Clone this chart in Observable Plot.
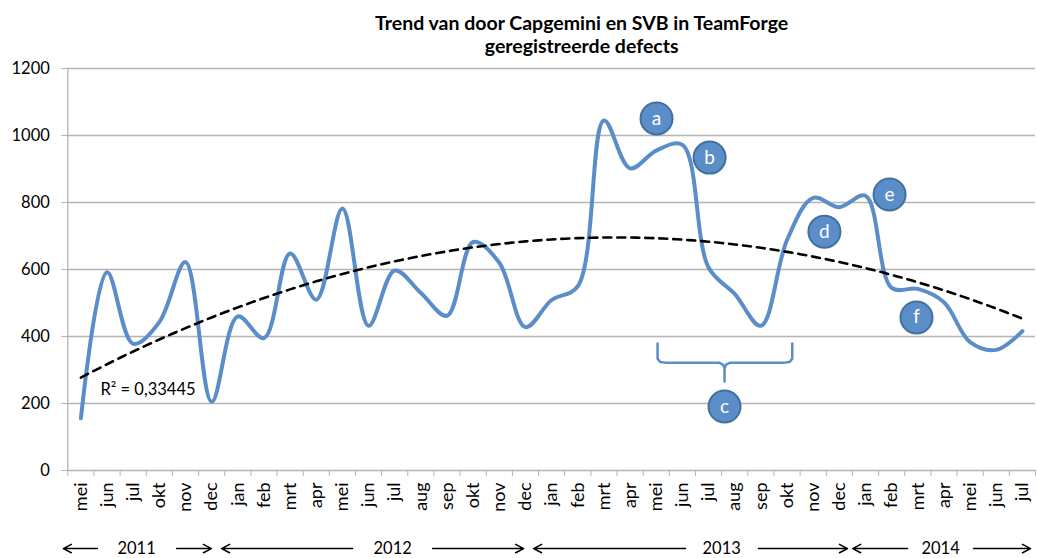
<!DOCTYPE html>
<html><head><meta charset="utf-8">
<script src="https://cdn.jsdelivr.net/npm/d3@7"></script>
<script src="https://cdn.jsdelivr.net/npm/@observablehq/plot@0.6"></script>
<style>body{margin:0;background:#fff;} #chart svg{font-family:Lato,sans-serif;}</style>
</head><body><div id="chart"></div>
<script>
// ---- data ----
const months = ["mei","jun","jul","okt","nov","dec",
  "jan","feb","mrt","apr","mei","jun","jul","aug","sep","okt","nov","dec",
  "jan","feb","mrt","apr","mei","jun","jul","aug","sep","okt","nov","dec",
  "jan","feb","mrt","apr","mei","jun","jul"];
const defects = [156,592,378,443,622,205,
  460,395,648,510,782,432,597,530,462,682,620,428,
  509,550,1045,902,955,972,606,527,432,688,814,786,
  820,545,542,502,383,360,416];
const yTicks = [0,200,400,600,800,1000,1200];
const titleText = "Trend van door Capgemini en SVB in TeamForge\ngeregistreerde defects";
const r2Label = "R² = 0,33445";
const noteLetters = ["a","b","c","d","e","f"];
const yearLabels = ["2011","2012","2013","2014"];

// ---- annotation placement (index / value space) ----
const notePos = [[22.01,1051],[24.04,934],[24.61,191],[28.43,713],[30.92,824],[31.95,457]];
const yearText = [2.13, 11.92, 24.5, 32.87];
const yearArrowSpans = [[0.63,-0.67],[3.66,4.99],[10.39,5.38],[13.45,16.93],[23.12,17.31],[25.91,29.31],[31.61,29.51],[34.13,36.31]];
const yearRowValue = -233;
const braceLeft = [[22.05,379],[22.05,334],[22.15,324],[22.35,322],[24.4,322],[24.55,316],[24.61,306],[24.61,266]];
const braceRight = [[27.2,379],[27.2,334],[27.1,324],[26.9,322],[24.82,322],[24.67,316],[24.61,306]];

// ---- quadratic (order-2 polynomial) trend fitted to the data ----
function quadFit(xs, ys) {
  const S = [0,0,0,0,0], T = [0,0,0];
  xs.forEach((x,i) => { for (let k=0;k<5;k++) S[k]+=x**k; for (let k=0;k<3;k++) T[k]+=ys[i]*x**k; });
  const A = [[S[0],S[1],S[2],T[0]],[S[1],S[2],S[3],T[1]],[S[2],S[3],S[4],T[2]]];
  for (let c=0;c<3;c++) {
    for (let r=c+1;r<3;r++) { const f=A[r][c]/A[c][c]; for (let k=c;k<4;k++) A[r][k]-=f*A[c][k]; }
  }
  const sol=[0,0,0];
  for (let r=2;r>=0;r--) { let s=A[r][3]; for (let k=r+1;k<3;k++) s-=A[r][k]*sol[k]; sol[r]=s/A[r][r]; }
  return x => sol[0]+sol[1]*x+sol[2]*x*x;
}
const idx = defects.map((_,i)=>i);
const fit = quadFit(idx, defects);
const trend = d3.range(0, 36.001, 0.25).map(i => ({i, v: fit(i)}));

const series = defects.map((v,i)=>({i, v, m: months[i]}));
const notes = noteLetters.map((t,k)=>({t, i: notePos[k][0], v: notePos[k][1]}));
const years = yearLabels.map((t,k)=>({t, i: yearText[k], v: yearRowValue}));
const arrows = yearArrowSpans.map(([a,b])=>({x1:a, x2:b, y: yearRowValue}));

const blue = "#5b8ec9";
const grid = "#b4b4b4";

const chart = Plot.plot({
  width: 1037, height: 558,
  marginLeft: 67.3, marginRight: 2, marginTop: 68, marginBottom: 88,
  x: {domain: [-0.5, 36.5]},
  y: {domain: [0, 1200]},
  style: {fontFamily: "Lato, sans-serif", fontSize: "16px", color: "#000", background: "#fff"},
  marks: [
    Plot.gridY(yTicks, {stroke: grid, strokeOpacity: 1, strokeWidth: 1.3}),
    Plot.ruleX([-0.5], {stroke: grid, strokeWidth: 1.3}),
    Plot.axisY(yTicks, {tickSize: 6, tickPadding: 12, stroke: grid, strokeOpacity: 1, label: null, fontSize: 16.5, tickFormat: d => String(d)}),
    Plot.axisX(d3.range(-0.5, 37, 1), {tickSize: 6, tickFormat: () => "", stroke: grid, strokeOpacity: 1, label: null}),
    Plot.axisX(d3.range(37), {tickSize: 0, tickPadding: 12, tickRotate: -90, tickFormat: i => months[i], label: null, fontSize: 18}),
    Plot.line(series, {x: "i", y: "v", stroke: blue, strokeWidth: 4, curve: "catmull-rom"}),
    Plot.line(trend, {x: "i", y: "v", stroke: "#000", strokeWidth: 2.6, strokeDasharray: "8,6"}),
    Plot.text([r2Label], {x: 0.75, y: 242, textAnchor: "start", fontSize: 16.5}),
    Plot.line(braceLeft, {x: d => d[0], y: d => d[1], stroke: blue, strokeWidth: 2.5, curve: "linear"}),
    Plot.line(braceRight, {x: d => d[0], y: d => d[1], stroke: blue, strokeWidth: 2.5, curve: "linear"}),
    Plot.dot(notes, {x: "i", y: "v", r: 16, fill: blue, stroke: "#41719c", strokeWidth: 2}),
    Plot.text(notes, {x: "i", y: "v", text: "t", fill: "#fff", fontSize: 19}),
    Plot.text(years, {x: "i", y: "v", text: "t", fontSize: 16.5}),
    Plot.arrow(arrows, {x1: "x1", x2: "x2", y1: "y", y2: "y", stroke: "#000", strokeWidth: 1.5, headLength: 9, headAngle: 55}),
    Plot.text([titleText], {frameAnchor: "top", dx: 30, dy: -34.5, lineAnchor: "middle", lineHeight: 1.18, fontWeight: "bold", fontSize: 19.5})
  ]
});
document.getElementById("chart").appendChild(chart);
</script>
</body></html>
